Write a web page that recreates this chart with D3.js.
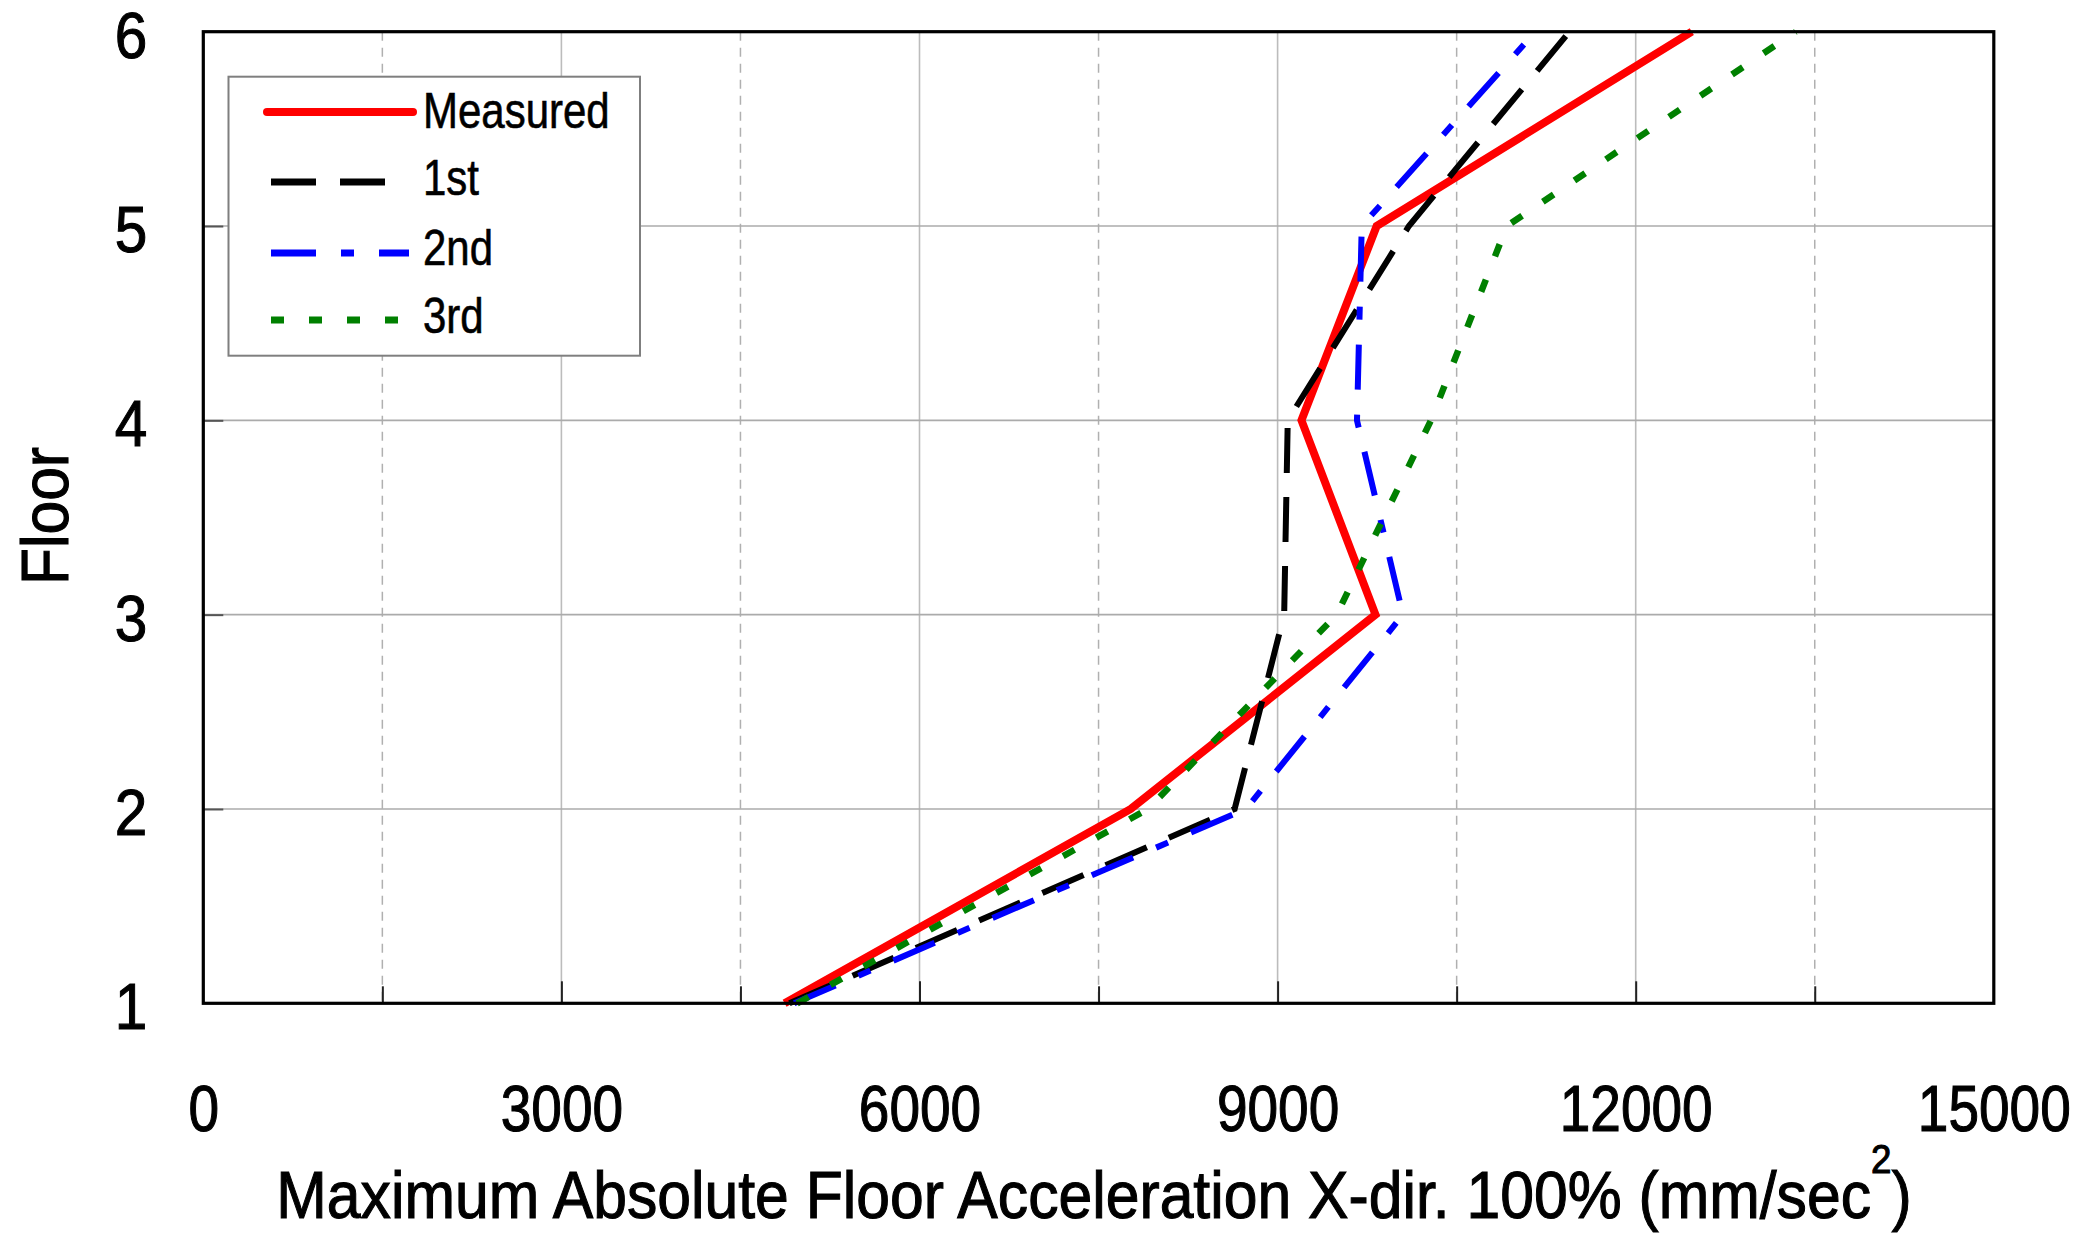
<!DOCTYPE html>
<html>
<head>
<meta charset="utf-8">
<script src="https://cdn.jsdelivr.net/npm/d3@7"></script>
<style>
  html, body { margin: 0; padding: 0; background: #ffffff; }
  svg { display: block; }
  text { font-family: "Liberation Sans", Arial, sans-serif; fill: #000; stroke: #000; stroke-width: 1.1px; }
</style>
</head>
<body>
<div id="chart"></div>
<script>
// Peak floor acceleration per storey, X direction, 100% excitation level
const floors   = [1, 2, 3, 4, 5, 6];
const measured = [4870, 7770, 9820, 9200, 9830, 12470];
const first    = [4910, 8640, 9055, 9085, 10100, 11445];
const second   = [4950, 8735, 10050, 9665, 9705, 11160];
const third    = [4975, 7915, 9495, 10285, 10920, 13340];

const seriesNames = ["Measured", "1st", "2nd", "3rd"];
const xTickValues = [0, 3000, 6000, 9000, 12000, 15000];
const xMinorTicks = [1500, 4500, 7500, 10500, 13500];
const yTickValues = [1, 2, 3, 4, 5, 6];

const W = 2097, H = 1234;
const L = 203.3, R = 1993.8, T = 31.7, B = 1003.3;

const svg = d3.select("#chart").append("svg")
  .attr("width", W).attr("height", H)
  .style("background", "#ffffff");

const x = d3.scaleLinear().domain([0, 15000]).range([L, R]);
const y = d3.scaleLinear().domain([1, 6]).range([B, T]);

// ---- grid ----
const grid = svg.append("g");
grid.selectAll("line.vmaj")
  .data(xTickValues.filter(v => v > 0 && v < 15000))
  .join("line")
  .attr("x1", d => x(d)).attr("x2", d => x(d))
  .attr("y1", T).attr("y2", B)
  .attr("stroke", "#bcbcbc").attr("stroke-width", 1.6);
grid.selectAll("line.vmin")
  .data(xMinorTicks)
  .join("line")
  .attr("x1", d => x(d)).attr("x2", d => x(d))
  .attr("y1", T).attr("y2", B)
  .attr("stroke", "#b0b0b0").attr("stroke-width", 1.5)
  .attr("stroke-dasharray", "9,7");
grid.selectAll("line.h")
  .data(yTickValues.filter(v => v > 1 && v < 6))
  .join("line")
  .attr("x1", L).attr("x2", R)
  .attr("y1", d => y(d)).attr("y2", d => y(d))
  .attr("stroke", "#ababab").attr("stroke-width", 1.6);

// ---- inward tick marks ----
const tickMajor = svg.append("g").attr("transform", `translate(0,${B})`)
  .call(d3.axisBottom(x).tickValues(xTickValues.filter(v => v > 0 && v < 15000))
    .tickSize(-22).tickFormat(""));
const tickMinor = svg.append("g").attr("transform", `translate(0,${B})`)
  .call(d3.axisBottom(x).tickValues(xMinorTicks).tickSize(-17).tickFormat(""));
const tickLeft = svg.append("g").attr("transform", `translate(${L},0)`)
  .call(d3.axisLeft(y).tickValues(yTickValues.filter(v => v > 1 && v < 6))
    .tickSize(-20).tickFormat(""));
[tickMajor, tickMinor, tickLeft].forEach(g => {
  g.select(".domain").remove();
  g.selectAll(".tick line").attr("stroke", "#222").attr("stroke-width", 2);
});
tickLeft.selectAll(".tick line").attr("stroke", "#555");

// ---- series ----
const series = [
  { name: seriesNames[0], values: measured, color: "#ff0000", width: 8,   dash: null },
  { name: seriesNames[1], values: first,    color: "#000000", width: 6,   dash: "45,24" },
  { name: seriesNames[2], values: second,   color: "#0000ff", width: 6,   dash: "45,25,13,25" },
  { name: seriesNames[3], values: third,    color: "#008000", width: 6.5, dash: "13,25" }
];

const line = d3.line()
  .x(d => x(d.v))
  .y(d => y(d.f));

svg.append("g").selectAll("path")
  .data(series)
  .join("path")
  .attr("d", s => line(floors.map((f, i) => ({ f, v: s.values[i] }))))
  .attr("fill", "none")
  .attr("stroke", s => s.color)
  .attr("stroke-width", s => s.width)
  .attr("stroke-dasharray", s => s.dash)
  .attr("stroke-linejoin", "miter")
  .attr("stroke-linecap", "butt");

// ---- frame ----
svg.append("rect")
  .attr("x", L).attr("y", T)
  .attr("width", R - L).attr("height", B - T)
  .attr("fill", "none").attr("stroke", "#000").attr("stroke-width", 3.2);

// ---- axis labels ----
const xLab = svg.append("g").attr("transform", `translate(0,${B})`)
  .call(d3.axisBottom(x).tickValues(xTickValues).tickSize(0).tickFormat(d3.format("d")));
xLab.select(".domain").remove();
xLab.selectAll(".tick text")
  .attr("y", 0).attr("dy", null)
  .attr("transform", "translate(0,128) scale(0.86,1)")
  .style("font-size", "64px")
  .style("font-family", "'Liberation Sans', Arial, sans-serif")
  .attr("fill", "#000");

const yLab = svg.append("g").attr("transform", `translate(${L},0)`)
  .call(d3.axisLeft(y).tickValues(yTickValues).tickSize(0).tickFormat(d3.format("d")));
yLab.select(".domain").remove();
yLab.selectAll(".tick text")
  .attr("x", 0).attr("dy", "0.36em")
  .attr("transform", "translate(-56,2) scale(0.9,1)")
  .style("font-size", "65px")
  .style("font-family", "'Liberation Sans', Arial, sans-serif")
  .attr("fill", "#000");

// stretch/condense a text element horizontally so it spans a given width
function fitWidth(sel, tx, ty, targetW, rot) {
  const w = sel.node().getComputedTextLength();
  const k = targetW / w;
  sel.attr("transform", `translate(${tx},${ty})${rot ? ` rotate(${rot})` : ""} scale(${k},1)`);
}

const xTitle = svg.append("text")
  .attr("text-anchor", "middle")
  .style("font-size", "66px");
xTitle.append("tspan").text("Maximum Absolute Floor Acceleration X-dir. 100% (mm/sec");
xTitle.append("tspan").text("2").style("font-size", "40px").attr("dy", -45);
xTitle.append("tspan").text(")").attr("dy", 45);
fitWidth(xTitle, 1094, 1218, 1636);

const yTitle = svg.append("text")
  .attr("text-anchor", "middle")
  .style("font-size", "67px")
  .text("Floor");
fitWidth(yTitle, 68, 516, 138, -90);

// ---- legend ----
const lg = svg.append("g");
lg.append("rect")
  .attr("x", 228.5).attr("y", 76.7)
  .attr("width", 411.5).attr("height", 279)
  .attr("fill", "#ffffff").attr("stroke", "#7f7f7f").attr("stroke-width", 2);

const legendRows = [
  { ly: 112, x1: 267, x2: 413, ty: 128, cap: "round" },
  { ly: 182, x1: 271, x2: 386, ty: 195, cap: "butt" },
  { ly: 253, x1: 271, x2: 409, ty: 265, cap: "butt" },
  { ly: 320, x1: 271, x2: 400, ty: 333, cap: "butt" }
];

series.forEach((s, i) => {
  const r = legendRows[i];
  lg.append("line")
    .attr("x1", r.x1).attr("x2", r.x2)
    .attr("y1", r.ly).attr("y2", r.ly)
    .attr("stroke", s.color)
    .attr("stroke-width", i === 0 ? 8 : 7)
    .attr("stroke-linecap", r.cap)
    .attr("stroke-dasharray", s.dash);
  lg.append("text")
    .attr("transform", `translate(423,${r.ty}) scale(0.84,1)`)
    .style("font-size", "50px")
    .style("stroke-width", "0.6px")
    .text(s.name);
});
</script>
</body>
</html>
